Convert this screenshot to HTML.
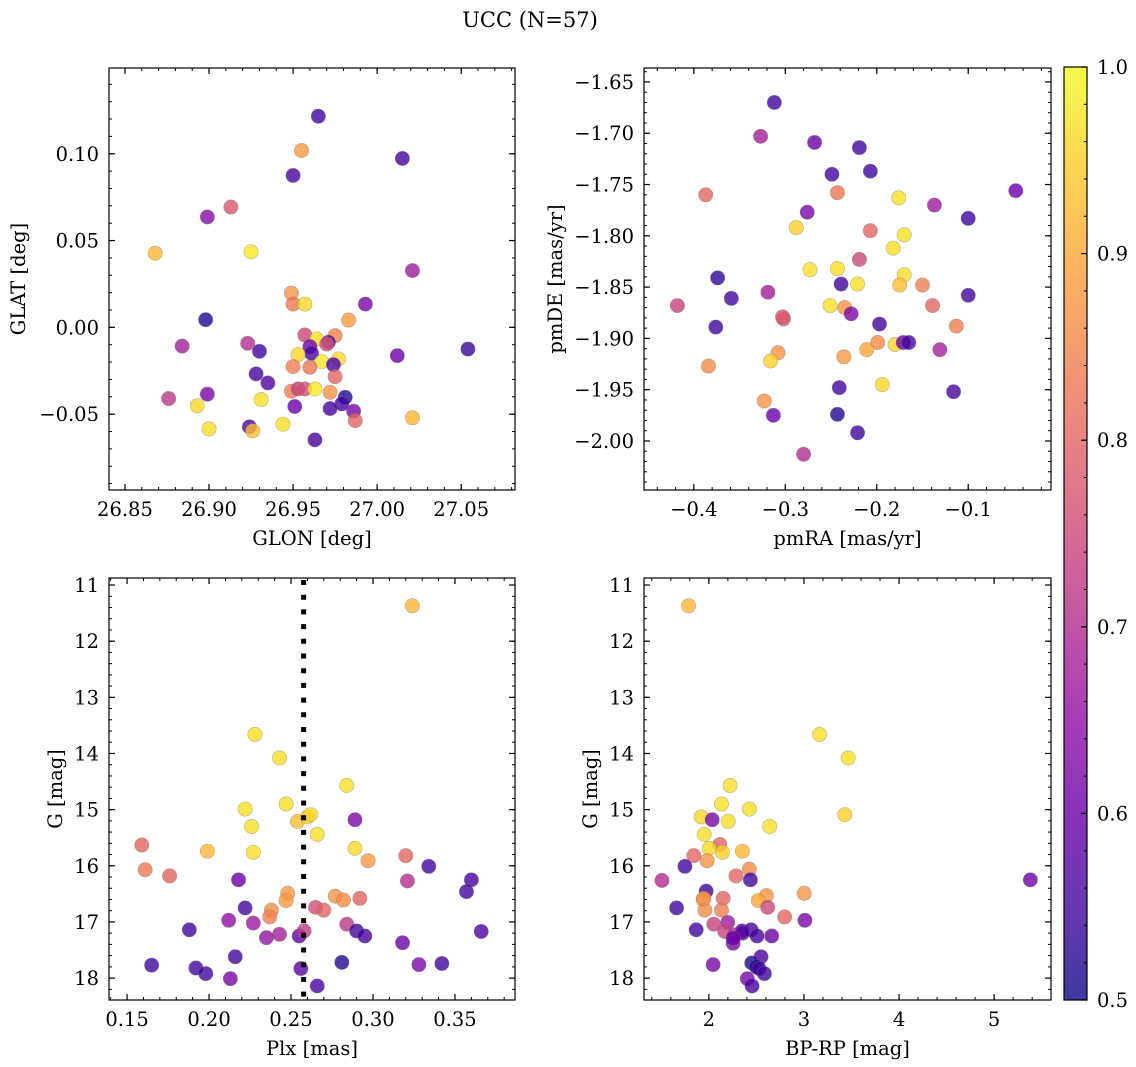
<!DOCTYPE html>
<html><head><meta charset="utf-8">
<style>
html,body{margin:0;padding:0;background:#fff;}
svg{display:block;font-family:"DejaVu Serif","Liberation Serif",serif;}
</style></head>
<body>
<svg id="fig" width="1136" height="1067" viewBox="0 0 1136 1067" xmlns="http://www.w3.org/2000/svg">
<text x="530" y="27" font-size="21" text-anchor="middle">UCC (N=57)</text>
</svg>
<script>
// ---- Panel 1 data: GLON / GLAT / membership probability ----
const p1x = [26.965,26.955,27.015,26.950,26.913,26.899,26.868,26.925,27.021,26.949,26.950,26.957,26.993,26.983,26.898,26.884,26.923,26.930,26.957,26.964,26.975,26.971,26.970,26.960,26.961,26.953,26.967,26.977,26.974,26.950,26.960,26.975,26.928,26.935,26.949,26.953,26.957,26.963,26.972,26.981,26.979,26.972,26.986,26.987,26.951,26.899,26.876,26.931,26.893,26.900,26.924,26.926,26.944,26.963,27.021,27.054,27.012];
const p1y = [0.1216,0.1019,0.0973,0.0875,0.0693,0.0636,0.0427,0.0435,0.0327,0.0197,0.0134,0.0134,0.0134,0.0042,0.0044,-0.0108,-0.0092,-0.0138,-0.0044,-0.0067,-0.0048,-0.0086,-0.0096,-0.0111,-0.0150,-0.0157,-0.0198,-0.0182,-0.0215,-0.0226,-0.0230,-0.0284,-0.0268,-0.0320,-0.0368,-0.0355,-0.0355,-0.0355,-0.0374,-0.0403,-0.0441,-0.0468,-0.0483,-0.0537,-0.0456,-0.0385,-0.0410,-0.0416,-0.0452,-0.0585,-0.0573,-0.0596,-0.0558,-0.0648,-0.0521,-0.0125,-0.0163];
const p1c = [0.55,0.88,0.56,0.56,0.78,0.64,0.92,0.98,0.67,0.87,0.83,0.96,0.62,0.88,0.52,0.68,0.70,0.55,0.75,0.97,0.84,0.56,0.77,0.60,0.56,0.96,0.98,0.96,0.56,0.84,0.83,0.80,0.56,0.57,0.84,0.74,0.76,0.98,0.87,0.52,0.55,0.56,0.62,0.80,0.60,0.62,0.72,0.97,0.96,0.97,0.56,0.93,0.97,0.56,0.92,0.54,0.60];
// ---- Panel 2 data: pmRA / pmDE ----
const p2x = [-0.312,-0.327,-0.268,-0.219,-0.249,-0.207,-0.048,-0.387,-0.243,-0.176,-0.137,-0.100,-0.276,-0.288,-0.207,-0.170,-0.182,-0.219,-0.273,-0.243,-0.170,-0.175,-0.221,-0.239,-0.150,-0.374,-0.359,-0.319,-0.418,-0.139,-0.100,-0.251,-0.235,-0.228,-0.302,-0.197,-0.113,-0.376,-0.199,-0.180,-0.171,-0.165,-0.211,-0.131,-0.308,-0.316,-0.236,-0.384,-0.194,-0.241,-0.116,-0.323,-0.313,-0.243,-0.221,-0.280,-0.303];
const p2y = [-1.670,-1.703,-1.709,-1.714,-1.740,-1.737,-1.756,-1.760,-1.758,-1.763,-1.770,-1.783,-1.777,-1.792,-1.795,-1.799,-1.812,-1.823,-1.833,-1.832,-1.838,-1.848,-1.847,-1.847,-1.848,-1.841,-1.861,-1.855,-1.868,-1.868,-1.858,-1.868,-1.870,-1.876,-1.881,-1.886,-1.888,-1.889,-1.904,-1.906,-1.904,-1.904,-1.911,-1.911,-1.914,-1.922,-1.918,-1.927,-1.945,-1.948,-1.952,-1.961,-1.975,-1.974,-1.992,-2.013,-1.879];
const p2c = [0.55,0.68,0.60,0.55,0.55,0.55,0.60,0.80,0.83,0.97,0.67,0.55,0.62,0.95,0.80,0.97,0.97,0.75,0.97,0.97,0.97,0.93,0.97,0.55,0.84,0.53,0.55,0.68,0.74,0.80,0.55,0.97,0.87,0.62,0.78,0.55,0.84,0.55,0.86,0.96,0.60,0.55,0.90,0.68,0.87,0.95,0.88,0.86,0.96,0.55,0.56,0.87,0.60,0.52,0.55,0.70,0.78];
// ---- Panel 3 data: Plx / G ----
const p3x = [0.324,0.228,0.243,0.284,0.222,0.247,0.254,0.260,0.262,0.226,0.266,0.289,0.159,0.199,0.227,0.289,0.297,0.320,0.334,0.161,0.176,0.218,0.321,0.360,0.357,0.248,0.247,0.277,0.282,0.292,0.222,0.238,0.237,0.265,0.270,0.212,0.227,0.284,0.188,0.290,0.295,0.366,0.243,0.235,0.255,0.258,0.318,0.216,0.165,0.192,0.198,0.213,0.256,0.281,0.328,0.342,0.266];
const p3y = [11.37,13.66,14.08,14.57,14.99,14.90,15.21,15.13,15.09,15.30,15.44,15.18,15.63,15.74,15.76,15.69,15.91,15.82,16.01,16.07,16.18,16.25,16.27,16.25,16.46,16.49,16.62,16.54,16.61,16.58,16.75,16.79,16.91,16.74,16.79,16.97,17.02,17.04,17.14,17.16,17.25,17.17,17.22,17.28,17.25,17.16,17.37,17.62,17.77,17.82,17.92,18.01,17.83,17.72,17.76,17.74,18.14];
const p3c = [0.92,0.97,0.97,0.97,0.97,0.97,0.93,0.95,0.96,0.97,0.97,0.62,0.80,0.92,0.97,0.96,0.88,0.80,0.55,0.83,0.80,0.60,0.70,0.56,0.55,0.88,0.88,0.87,0.86,0.80,0.55,0.86,0.84,0.76,0.80,0.65,0.67,0.72,0.55,0.55,0.56,0.57,0.68,0.66,0.58,0.73,0.60,0.55,0.55,0.55,0.55,0.62,0.58,0.52,0.62,0.55,0.56];
const plxMean = 0.2577;
// ---- Panel 4 data: BP-RP / G ----
const p4x = [1.787,3.164,3.465,2.224,2.133,2.426,1.919,2.035,2.203,2.640,3.430,1.951,2.115,2.003,2.143,2.353,1.842,1.982,1.748,2.426,2.286,2.437,1.507,5.381,1.972,3.003,2.605,2.150,1.940,2.521,2.619,1.958,2.133,1.661,2.797,3.010,2.052,2.199,1.867,2.168,2.349,2.444,2.507,2.661,2.269,2.255,2.045,2.549,2.451,2.500,2.528,2.584,2.405,2.454,2.353,1.947,2.255];
const p4y = [11.37,13.66,14.08,14.57,14.90,14.99,15.13,15.18,15.21,15.30,15.09,15.44,15.62,15.69,15.76,15.74,15.82,15.91,16.01,16.06,16.18,16.25,16.26,16.25,16.45,16.49,16.53,16.58,16.60,16.62,16.74,16.79,16.79,16.75,16.91,16.97,17.04,17.01,17.14,17.17,17.16,17.14,17.25,17.25,17.23,17.38,17.76,17.62,17.73,17.80,17.83,17.92,18.01,18.14,17.20,16.58,17.29];
const p4c = [0.92,0.97,0.97,0.97,0.97,0.97,0.96,0.62,0.97,0.97,0.95,0.97,0.80,0.96,0.95,0.92,0.80,0.87,0.55,0.86,0.80,0.55,0.70,0.60,0.55,0.87,0.87,0.80,0.86,0.90,0.75,0.86,0.84,0.55,0.80,0.62,0.74,0.67,0.55,0.74,0.56,0.55,0.56,0.60,0.70,0.62,0.62,0.56,0.52,0.52,0.55,0.55,0.62,0.56,0.57,0.87,0.60];
// ---- tick labels ----
const t1x = [26.85,26.90,26.95,27.00,27.05], t1y = [-0.05,0.00,0.05,0.10];
const t2x = [-0.4,-0.3,-0.2,-0.1], t2y = [-2.00,-1.95,-1.90,-1.85,-1.80,-1.75,-1.70,-1.65];
const t3x = [0.15,0.20,0.25,0.30,0.35], t3y = [11,12,13,14,15,16,17,18];
const t4x = [2,3,4,5], t4y = [11,12,13,14,15,16,17,18];
const cbTicks = [0.5,0.6,0.7,0.8,0.9,1.0];

const NS = "http://www.w3.org/2000/svg";
const svg = document.getElementById('fig');
const FS = 19.5;
function mk(tag, attrs, parent){const e=document.createElementNS(NS,tag);for(const k in attrs)e.setAttribute(k,attrs[k]);(parent||svg).appendChild(e);return e;}
const stops=[[13,8,135],[65,4,157],[106,0,168],[143,13,164],[177,42,144],[204,71,120],[225,100,98],[242,132,75],[252,166,54],[252,206,37],[240,249,33]];
function plasma(p){let t=Math.max(0,Math.min(1,(p-0.5)/0.5))*10;const i=Math.min(9,Math.floor(t)),f=t-i;const a=stops[i],b=stops[i+1];return 'rgb('+[0,1,2].map(k=>Math.round(a[k]+(b[k]-a[k])*f)).join(',')+')';}
function fmt(v,d){return (v<0?'\u2212':'')+Math.abs(v).toFixed(d);}

function panel(name,box,xr,yr,xs,ys,xc,xt,yt,dec,minX,minY,xlab,ylab,invY){
  const [L,T,R,B]=box;
  const g=mk('g',{});
  
  
  const X=v=>L+(v-xr[0])/(xr[1]-xr[0])*(R-L);
  const Y=invY? v=>T+(v-yr[0])/(yr[1]-yr[0])*(B-T) : v=>B-(v-yr[0])/(yr[1]-yr[0])*(B-T);
  for(let i=0;i<xs.length;i++){
    const c=mk('circle',{cx:X(xs[i]),cy:Y(ys[i]),r:7.2,fill:plasma(xc[i]),'fill-opacity':0.8,stroke:'#777','stroke-opacity':0.5,'stroke-width':0.6},g);
    
    
  }
  const lo=Math.min(xr[0],xr[1]),hi=Math.max(xr[0],xr[1]);
  for(let v=Math.ceil(lo/minX-1e-6)*minX;v<=hi+1e-9;v+=minX){const x=X(v);mk('line',{x1:x,x2:x,y1:B,y2:B-3,stroke:'#000','stroke-width':1},g);mk('line',{x1:x,x2:x,y1:T,y2:T+3,stroke:'#000','stroke-width':1},g);}
  const ylo=Math.min(yr[0],yr[1]),yhi=Math.max(yr[0],yr[1]);
  for(let v=Math.ceil(ylo/minY-1e-6)*minY;v<=yhi+1e-9;v+=minY){const y=Y(v);mk('line',{x1:L,x2:L+3,y1:y,y2:y,stroke:'#000','stroke-width':1},g);mk('line',{x1:R,x2:R-3,y1:y,y2:y,stroke:'#000','stroke-width':1},g);}
  xt.forEach(v=>{const x=X(v);mk('line',{x1:x,x2:x,y1:B,y2:B-6,stroke:'#000','stroke-width':1.2},g);mk('line',{x1:x,x2:x,y1:T,y2:T+6,stroke:'#000','stroke-width':1.2},g);
    const t=mk('text',{x:x,y:B+26,'font-size':FS,'text-anchor':'middle'},g);t.textContent=fmt(v,dec[0]);
    
    });
  yt.forEach(v=>{const y=Y(v);mk('line',{x1:L,x2:L+6,y1:y,y2:y,stroke:'#000','stroke-width':1.2},g);mk('line',{x1:R,x2:R-6,y1:y,y2:y,stroke:'#000','stroke-width':1.2},g);
    const t=mk('text',{x:L-10,y:y+7,'font-size':FS,'text-anchor':'end'},g);t.textContent=fmt(v,dec[1]);
    
    });
  mk('rect',{x:L,y:T,width:R-L,height:B-T,fill:'none',stroke:'#000','stroke-width':1.2},g);
  const xl=mk('text',{x:(L+R)/2,y:B+55,'font-size':FS,'text-anchor':'middle'},g);xl.textContent=xlab;
  
  
  const yx=L-ylab[1];
  const yl=mk('text',{x:yx,y:(T+B)/2,'font-size':FS,'text-anchor':'middle',transform:'rotate(-90 '+yx+' '+(T+B)/2+')'},g);yl.textContent=ylab[0];
  
  
  return {X,Y,g};
}
panel('glon-glat-panel',[109,68,515,490],[26.8405,27.082],[-0.0937,0.1494],p1x,p1y,p1c,t1x,t1y,[2,2],0.01,0.01,'GLON [deg]',['GLAT [deg]',84],false);
panel('pm-panel',[644,68,1051,490],[-0.4545,-0.0095],[-2.0478,-1.6364],p2x,p2y,p2c,t2x,t2y,[1,2],0.02,0.01,'pmRA [mas/yr]',['pmDE [mas/yr]',82],false);
const P3=panel('plx-g-panel',[109,578,515,1000],[0.139,0.3866],[10.875,18.39],p3x,p3y,p3c,t3x,t3y,[2,0],0.01,0.2,'Plx [mas]',['G [mag]',47],true);
const dl=mk('line',{x1:P3.X(plxMean),x2:P3.X(plxMean),y1:580,y2:1000,stroke:'#000','stroke-width':5,'stroke-dasharray':'5 9.7'},P3.g);


panel('cmd-panel',[644,578,1051,1000],[1.318,5.598],[10.875,18.39],p4x,p4y,p4c,t4x,t4y,[0,0],0.2,0.2,'BP-RP [mag]',['G [mag]',47],true);

// colorbar
const cb=mk('g',{});


const defs=mk('defs',{},cb);
const lg=mk('linearGradient',{id:'pl',x1:0,y1:1,x2:0,y2:0},defs);
for(let i=0;i<=20;i++){mk('stop',{offset:i/20,'stop-color':plasma(0.5+i*0.025)},lg);}
const cT=67,cB=1000,cL=1064,cR=1087;
mk('rect',{x:cL,y:cT,width:cR-cL,height:cB-cT,fill:'url(#pl)','fill-opacity':0.8},cb);
const CY=v=>cB-(v-0.5)/0.5*(cB-cT);
for(let v=0.5;v<=1.0001;v+=0.02){mk('line',{x1:cR,x2:cR-3,y1:CY(v),y2:CY(v),stroke:'#000','stroke-width':1},cb);}
cbTicks.forEach(v=>{mk('line',{x1:cR,x2:cR-6,y1:CY(v),y2:CY(v),stroke:'#000','stroke-width':1.2},cb);
  const t=mk('text',{x:cR+10,y:CY(v)+7,'font-size':FS},cb);t.textContent=v.toFixed(1);
  
  });
mk('rect',{x:cL,y:cT,width:cR-cL,height:cB-cT,fill:'none',stroke:'#000','stroke-width':1.2},cb);
</script>
</body></html>
